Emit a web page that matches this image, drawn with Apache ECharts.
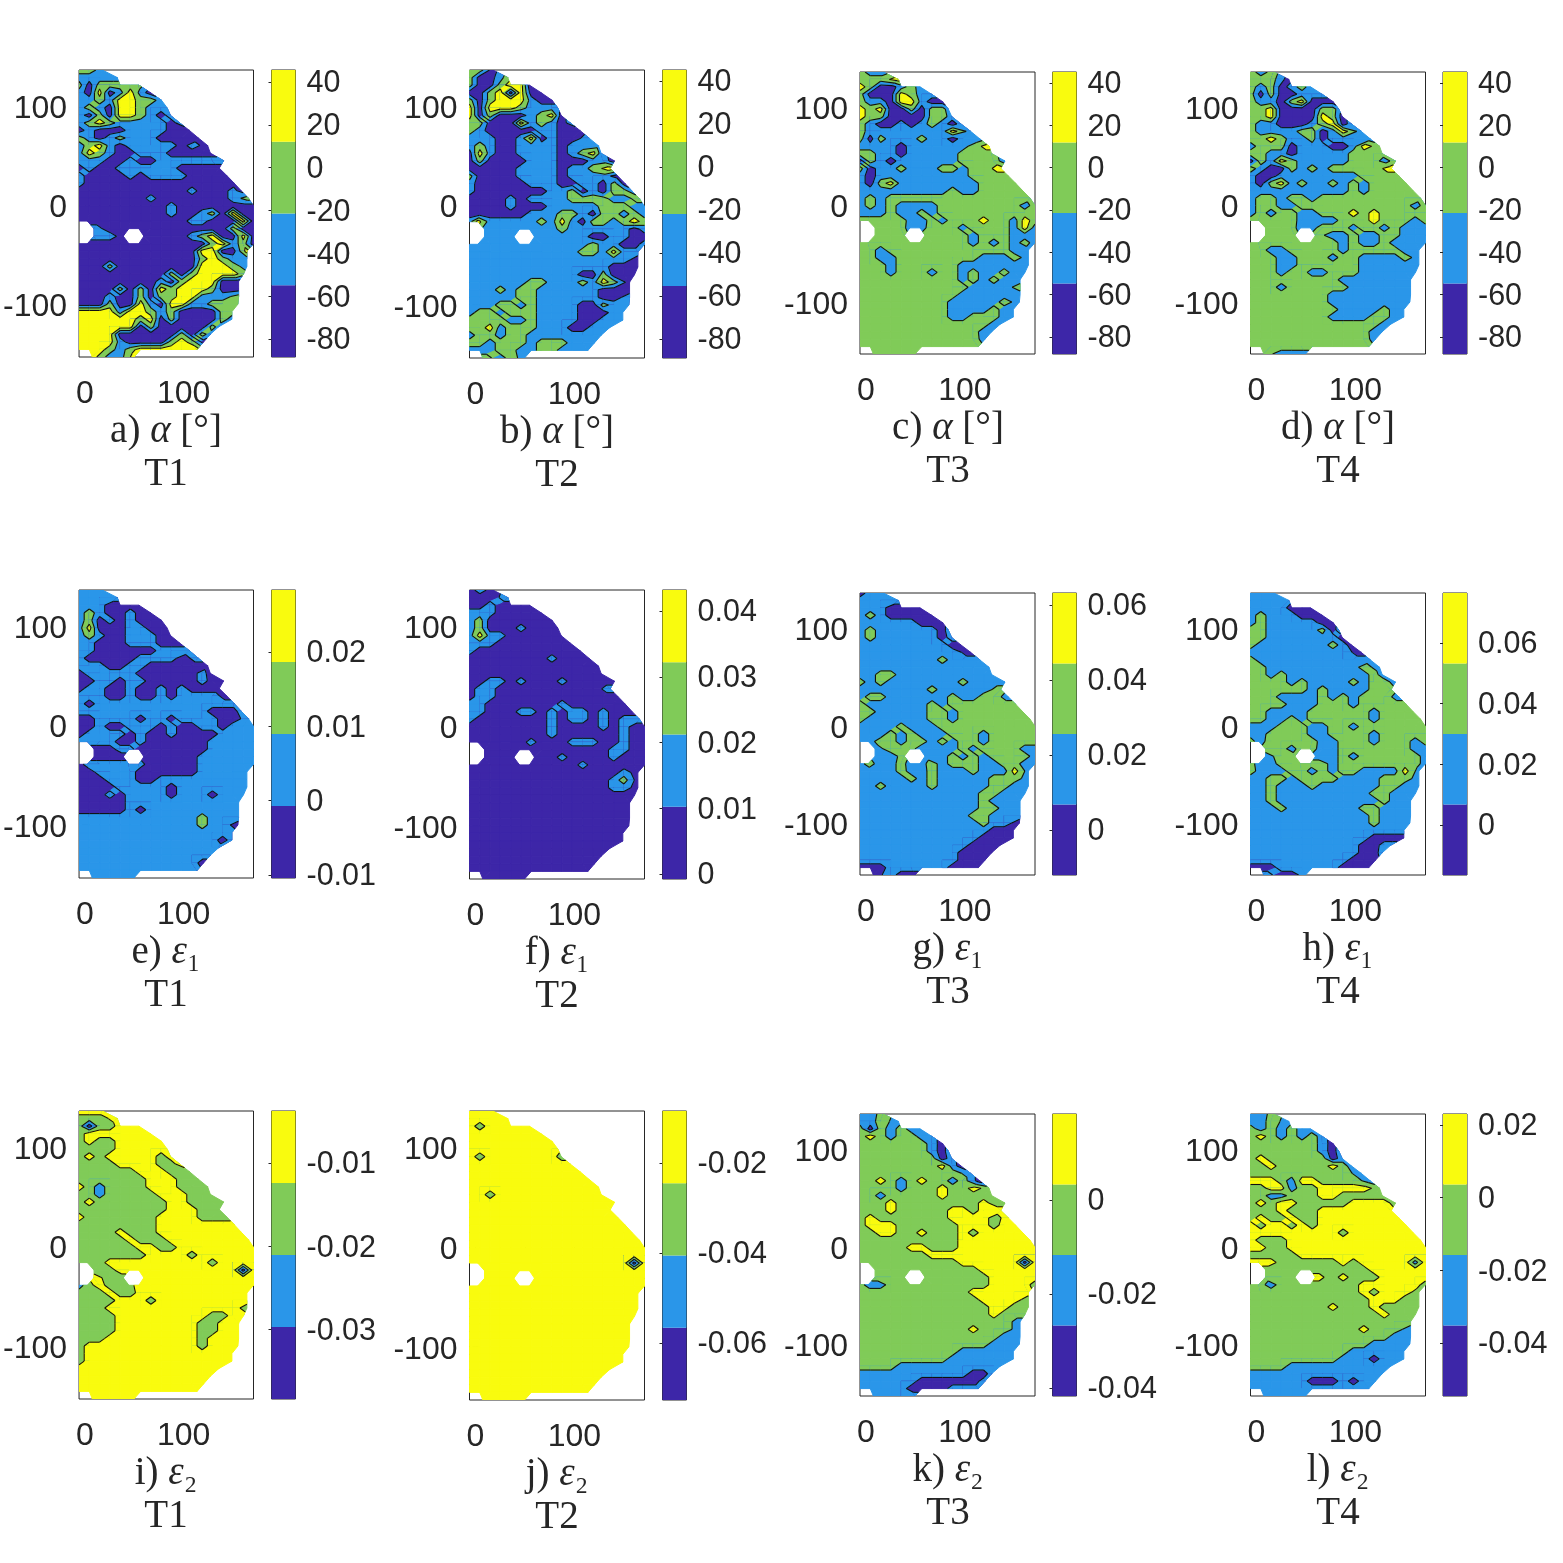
<!DOCTYPE html>
<html>
<head>
<meta charset="utf-8">
<script src="https://cdn.jsdelivr.net/npm/echarts@6/dist/echarts.min.js"></script>
<style>
  html, body { margin: 0; background: #fff; }
  #chart { width: 1563px; height: 1563px; }
</style>
</head>
<body>
<div id="chart"></div>
<script>
// measurement grid, 18 columns x 39 rows, same in every panel
const xMin = -6, xMax = 170.8, yMax = 135, yMin = -154;
const firstCol = Array(38).fill(0).concat([2]);
const lastCol = [2,3,6,7,8,9,9,10,10,11,12,13,14,13,14,15,16,16,17,17,17,17,17,17,16,16,16,16,15,15,15,15,15,15,14,13,12,11,5];
// x of the outermost node in each row
const rightEdge = [17.6,32.7,54.6,66.4,77.5,83.2,86.6,96,105.8,114.9,124.3,127,140.5,136.1,143.9,151.3,158.4,165.8,170.8,170.8,170.8,170.8,170.8,170.8,164.1,164.1,164.1,160.7,155.7,155.7,155.7,155,148.9,148.9,135.5,127,120.3,113.6,49.6];
const holeNodes = [[21,0],[22,0],[21,1],[22,1],[22,5],[22,6]]; // row, col
// nodes round the two holes and the bottom corner that do not sit on the regular columns: row, col, x
const movedNodes = [[20,1,2.4],[21,2,9.2],[22,2,9.2],[23,1,2.4],[21,5,44.5],[21,6,54.6],[23,5,44.5],[23,6,54.6],[22,4,38.8],[22,7,59.7],[38,2,7.5]];

const xTicks = [0, 50, 100, 150], xLabels = [0, 100];
const yTicks = [-100, 0, 100];

// each string is one row from the top, one digit per node: contour band 0..3
// a short row repeats its last digit to the right
const alphaT1 = ['221','111','202','103013100','112133221','121033211100','102033210100','123211111010','010001111000','210121110000','123101111101000000','132100111000','111001001','010011111100','100001011110','1000','000000000001000100','000000010000000120','000000000100000000','000000000100120300','000000000001100030','031000000000000200','031100000001230030','000000000000023120','000000000000330030','000000000000232110','000200000000333210','000000000202333320','000000001023330000','000020203233320000','000100202233111200','000200310331122200','333313321200002200','333333230200002100','333333020000021000','333300000020210000','333310000232000000','333212333333000000','003113'];
const alphaT2 = ['220','2002','2002330','00230300','202333100','3033321111','3020001230','22000312101','21000001100','111001301001','1210011110111','03100111101231','020000111000110','000001111011230','200001111011110','1000001110011020','10000000112010221','00001011112222112','000010001111122211','000000111221022121','131111121310221232','011111111211111101','111111111111001100','111111111111211001','111111111112213110','111111111111111100','111111111111110000','111111111110020000','111111221112132000','111212211111100000','111112211111100100','111221211110021100','122122211110001100','222211211110011100','223122211100111000','122122111111111000','221222122211100000','111221122111000000','002121'];
const alphaT3 = ['211','2223','3200121','20003211','211033100','3230020221','3220000221','21001012101','21111111131','202111211011','1111011111123','22110111112222','021011111122221','20112111221223','101111111112222','1023111111112222','11111111121122222','121222222222222222','121211112222222212','111211212222222222','222221121222322132','222221122212222131','222222222221222111','222222222221212121','221222222222222111','221122222222111210','222122222211111110','222122212212112110','222222222212121100','222222222221111200','222222222211111100','222222222111112100','222222222111121100','222222222112221100','222222222222211000','222222222222110000','222222222222100000','222222222222000000','002222'];
const alphaT4 = ['212','2220','2120121','20200111','211023000','2230000221','2230000320','21100012301','21111220131','223211201111','1222011100132','22110111112222','021321111122212','21002121222223','100111111112222','1023121121212222','11111111112122222','122122122222222222','122112222222222212','121221122232322222','222221111222322212','222221122212212111','222222221121122111','222222222121121111','22112222212222211','22211222122111121','22211222222111111','222122112221111111','222222222111111100','222122222211111100','222222221111111100','222222221111111100','222222222111121100','222222221111221100','222222222222211000','22222222222211','2222222222221','222222222222','002111'];
const eps1T1 = ['111','111','1110000','12100100','120101000','1300011000','1210011100','11000111000','11000000111','100000111101','1110011000000','01111100000010','001101100000100','01100100101000','111001001011110','1011111111111111','11111111111110001','00111101101111001','001001110100110111','011110100100001111','111100100000011111','010011000000011111','000000000000111111','011111100000111111','001111000000111111','000111001111111111','000011111011111111','000101111011101111','000001111111111111','000001011111111111','111111111111211111','111111111111211011','1','11111111111111011','1','1','1111111111110','1','1'];
const eps1T2 = ['010','00010','0010','1110','1200','1200010','13110','1110','10','0000000010','0','0','00110100010','011000000000010','0110','11000000010','110001101011010','100000001011010110','000000001000010100','000000001000000100','000000100011100100','000000000000001100','000000000100001000','00000000000100','000000000000000100','000000000000001200','000000000000001100','0','0','0','0','0','0','0','0','0','0','0','0'];
const eps1T3 = ['01','1','1110000','12100000','111111000','1211111101','1211111101','11111111100','11111111110','1111111121','1','11221','212111111121','111111121111121','122111111211221','2111111212222222','22111112212222222','211111122122222222','111121112222222222','111212111222122222','112212212122122222','021222111121222211','021121111212122221','121121121222112211','11112112111211131','11111212111112221','1121111211111221','111111111111221','11111111111121','111111111111221','11111111111221','1111111111112110','1111111111111000','1111111111110000','111111111110','11111111110','11111111110','000111111000','000100'];
const eps1T4 = ['1','1','1111000','12111000','121111100','2211111201','2211111110','21111111210','11111111110','21','2211111111121','22121111111121','222212111121221','222222121111222','222111121212221','2222111222122222','22111122222212222','22112122222212222','111222112212222222','112222112222122222','212222211222122212','012212211222222211','011222111212222221','211222221222222221','21112212122111131','11221222211112221','1121112111111221','112111111111221','112111111111121','11121111111221','11111111111121','11111111111121','1','111111111111000','11111111111001','11111111111001','1111111111000','000111111000','001001'];
const eps2T1 = ['3','2223','2022333','23','23223','22223','2323333323','22223333223','222222333223','222222233322','3212222333222','22122222333222','232222222332222','22222222233322','322222223333222','222222223','222232223','2222232223','22222233223','222222233332333333','222333333333323','222233333333333303','223223','1232223','2223223','222233323','222333333333333323','2222333333333223','222233333333223','222233333333223','22233333333323','23333333333323','23','23','3','3','3','3','3'];
const eps2T2 = ['3','3','323','3','3','3','32333333323','3','3','3','3','3323','3','3','3','3','3','3','3','3','333333333333333303','3','3','3','3','3','3','3','3','3','3','3','3','3','3','3','3','3','3'];
const eps2T3 = ['112','11212','2021211','23212211','222222210','2222222101','2222222201','22222222310','22222222221','223212322120','2222122232232','2212222232','22232222222232','22232222233233','232222222333323','2333222222333233','22332232223233333','222222222233333333','222223322233333333','222222233333333333','222222222233333303','222222222222333333','222222222222233333','211222222222233332','222222222223333332','22222222222233332','22222222222223322','222222222222232','2222222222222221','2222222222232221','2222222222222211','2222222222222111','2222222222111111','2222222221111111','22221','11111111111001','1111110000001','111110000111','1'];
const eps2T4 = ['112','11212','2121211','23212121','222222210','2222222101','2322222201','22322222321','22222222221','333213322221','2233122333332','22112223322222','232332222233332','22232223333333','232232233333333','3233232333333333','333333333233','32223','33223','222223','333222222323333313','222222222222333333','222222332322233333','221222222223333332','22222222222323332','2222222222223332','22222222322232','222222222222232','2','2222222222232221','2222222222222211','2222222222221111','2222222222111111','2222222221110111','22221','1','111111000101','1','1'];

const panelRows = [alphaT1, alphaT2, alphaT3, alphaT4, eps1T1, eps1T2, eps1T3, eps1T4, eps2T1, eps2T2, eps2T3, eps2T4];

// colour bars: limits and labelled ticks
const barMin = [-88.4, -88.8, -88, -88, -0.0104, -0.00076, -0.012, -0.0165, -0.0384, -0.0727, -0.0417, -0.0546];
const barMax = [45.6, 45, 45.2, 45.2, 0.02834, 0.0432, 0.0632, 0.0765, -0.00373, -0.00844, 0.0183, 0.023];
const alphaBarTicks = [40, 20, 0, -20, -40, -60, -80];
const barTicks = [
  alphaBarTicks, alphaBarTicks, alphaBarTicks, alphaBarTicks,
  [0.02, 0.01, 0, -0.01], [0.04, 0.03, 0.02, 0.01, 0], [0.06, 0.04, 0.02, 0], [0.06, 0.04, 0.02, 0],
  [-0.01, -0.02, -0.03], [-0.02, -0.04, -0.06], [0, -0.02, -0.04], [0.02, 0, -0.02, -0.04]
];

const captionLetters = ['a','b','c','d','e','f','g','h','i','j','k','l'];
const rowQuantity = ['{g|α} {n|[°]}', '{g|ε}{n|₁}', '{g|ε}{n|₂}'];
const seriesNames = ['T1', 'T2', 'T3', 'T4'];

// layout in pixels
const plotLeft = [78.5, 469.5, 860, 1250.5];
const barLeft = [271.5, 662.5, 1052.5, 1443];
const plotTop = [70, 70, 72, 72, 590, 590, 593, 593, 1111, 1111, 1114, 1114];
const plotHeight = [287, 288, 282, 282, 288, 289, 282, 282, 288, 289, 282, 282];
const captionCenter = [166, 557, 948, 1338];

const bandColors = ['#3D26A8', '#2A96E9', '#80CB58', '#F9FB0E'];
const textColor = '#262626';
const sansFont = '"Liberation Sans", Arial, sans-serif';
const serifFont = '"Liberation Serif", "DejaVu Serif", serif';

const nCols = 18, nRows = lastCol.length;

function nodeX(r, c) {
  const moved = movedNodes.find(m => m[0] === r && m[1] === c);
  if (moved) return moved[2];
  if (c === lastCol[r]) return rightEdge[r];
  return xMin + c * (xMax - xMin) / (nCols - 1);
}
function nodeY(r) { return yMax - r * (yMax - yMin) / (nRows - 1); }

function nodeLevel(rows, r, c) {
  if (c < firstCol[r] || c > lastCol[r]) return -1;
  if (holeNodes.some(h => h[0] === r && h[1] === c)) return -1;
  const row = rows[r];
  return Number(row[Math.min(c, row.length - 1)]);
}

function cellData(rows) {
  const cells = [];
  for (let r = 0; r < nRows - 1; r++) {
    for (let c = 0; c < nCols - 1; c++) {
      const v = [nodeLevel(rows, r, c), nodeLevel(rows, r, c + 1), nodeLevel(rows, r + 1, c + 1), nodeLevel(rows, r + 1, c)];
      if (v.filter(d => d >= 0).length < 3) continue;
      cells.push([nodeX(r, c), nodeY(r), nodeX(r, c + 1), nodeX(r + 1, c + 1), nodeX(r + 1, c), nodeY(r + 1), v[0], v[1], v[2], v[3]]);
    }
  }
  return cells;
}

// corners of a cell in pixels, through the axes; missing corners are dropped so the edge runs diagonally
function cellCorners(api) {
  const yTop = api.value(1), yBottom = api.value(5);
  const xy = [[api.value(0), yTop], [api.value(2), yTop], [api.value(3), yBottom], [api.value(4), yBottom]];
  const out = [];
  for (let i = 0; i < 4; i++) {
    const v = api.value(6 + i);
    if (v < 0) continue;
    const p = api.coord(xy[i]);
    out.push({ x: p[0], y: p[1], v: v });
  }
  return out;
}

function crossing(a, b, t) {
  const k = (t - a.v) / (b.v - a.v);
  return { x: a.x + (b.x - a.x) * k, y: a.y + (b.y - a.y) * k, v: t };
}

function clipAbove(poly, t) {
  const out = [];
  for (let i = 0; i < poly.length; i++) {
    const a = poly[i], b = poly[(i + 1) % poly.length];
    if (a.v >= t) out.push(a);
    if ((a.v >= t) !== (b.v >= t)) out.push(crossing(a, b, t));
  }
  return out;
}

function renderBands(params, api) {
  const poly = cellCorners(api);
  const values = poly.map(p => p.v);
  const lo = Math.min.apply(null, values), hi = Math.max.apply(null, values);
  const children = [];
  for (let level = lo; level <= hi; level++) {
    const part = level === lo ? poly : clipAbove(poly, level - 0.5);
    if (part.length < 3) continue;
    children.push({
      type: 'polygon',
      shape: { points: part.map(p => [p.x, p.y]) },
      style: { fill: bandColors[level], stroke: bandColors[level], lineWidth: 1 }
    });
  }
  return { type: 'group', children: children };
}

function renderContours(params, api) {
  const poly = cellCorners(api);
  const children = [];
  [0.5, 1.5, 2.5].forEach(t => {
    const hits = [];
    for (let i = 0; i < poly.length; i++) {
      const a = poly[i], b = poly[(i + 1) % poly.length];
      if ((a.v >= t) !== (b.v >= t)) hits.push(crossing(a, b, t));
    }
    for (let i = 0; i + 1 < hits.length; i += 2) {
      children.push({
        type: 'line',
        shape: { x1: hits[i].x, y1: hits[i].y, x2: hits[i + 1].x, y2: hits[i + 1].y },
        style: { stroke: '#101010', lineWidth: 1.1 }
      });
    }
  });
  return { type: 'group', children: children };
}

function renderBarBand(params, api) {
  const a = api.coord([0, api.value(2)]);
  const b = api.coord([1, api.value(1)]);
  return {
    type: 'rect',
    shape: { x: a[0], y: a[1], width: b[0] - a[0], height: b[1] - a[1] },
    style: { fill: bandColors[api.value(0)] }
  };
}

function barBands(p) {
  const step = (barMax[p] - barMin[p]) / 4;
  return bandColors.map((c, i) => [i, barMin[p] + i * step, barMin[p] + (i + 1) * step]);
}

// the plain label padding is ignored on axis labels, a rich token keeps it
function nudgedLabel(fontSize, drop) {
  return {
    formatter: v => '{t|' + v + '}',
    rich: { t: { color: textColor, fontFamily: sansFont, fontSize: fontSize, padding: [drop, 0, 0, 0] } }
  };
}

const grids = [], xAxes = [], yAxes = [], series = [], titles = [];
const tickStyle = { show: true, inside: true, length: 3, lineStyle: { color: textColor, width: 1 } };

panelRows.forEach((rows, p) => {
  const col = p % 4, row = Math.floor(p / 4);
  const plotGrid = grids.length;
  grids.push({ left: plotLeft[col], top: plotTop[p], width: 175, height: plotHeight[p], show: true, borderColor: textColor, borderWidth: 1, backgroundColor: 'transparent' });
  grids.push({ left: barLeft[col], top: plotTop[p], width: 24, height: plotHeight[p], show: true, borderColor: textColor, borderWidth: 1, backgroundColor: 'transparent' });

  const firstX = xAxes.length, firstY = yAxes.length;
  const labelStyle = { color: textColor, fontFamily: sansFont, fontSize: 32 };
  xAxes.push({
    type: 'value', gridIndex: plotGrid, min: xMin, max: xMax, position: 'bottom', splitLine: { show: false },
    axisLine: { show: false },
    axisTick: Object.assign({ customValues: xTicks }, tickStyle),
    axisLabel: Object.assign({ customValues: xLabels, margin: 21, hideOverlap: false }, labelStyle)
  });
  xAxes.push({
    type: 'value', gridIndex: plotGrid, min: xMin, max: xMax, position: 'top', splitLine: { show: false },
    axisLine: { show: false }, axisTick: Object.assign({ customValues: xTicks }, tickStyle), axisLabel: { show: false }
  });
  xAxes.push({ type: 'value', gridIndex: plotGrid + 1, min: 0, max: 1, show: false });
  yAxes.push({
    type: 'value', gridIndex: plotGrid, min: yMin, max: yMax, position: 'left', splitLine: { show: false },
    axisLine: { show: false },
    axisTick: Object.assign({ customValues: yTicks }, tickStyle),
    axisLabel: Object.assign({ customValues: yTicks, margin: 12, hideOverlap: false }, labelStyle, nudgedLabel(32, 8))
  });
  yAxes.push({
    type: 'value', gridIndex: plotGrid, min: yMin, max: yMax, position: 'right', splitLine: { show: false },
    axisLine: { show: false }, axisTick: Object.assign({ customValues: yTicks }, tickStyle), axisLabel: { show: false }
  });
  yAxes.push({
    type: 'value', gridIndex: plotGrid + 1, min: barMin[p], max: barMax[p], position: 'right', splitLine: { show: false },
    axisLine: { show: false },
    axisTick: Object.assign({ customValues: barTicks[p] }, tickStyle),
    axisLabel: Object.assign({ customValues: barTicks[p], margin: 11, hideOverlap: false }, labelStyle, nudgedLabel(30.5, 4))
  });

  const cells = cellData(rows);
  series.push({
    type: 'custom', name: captionLetters[p] + ' bands', xAxisIndex: firstX, yAxisIndex: firstY, silent: true, clip: true,
    animation: false, renderItem: renderBands, data: cells, z: 2
  });
  series.push({
    type: 'custom', name: captionLetters[p] + ' contours', xAxisIndex: firstX, yAxisIndex: firstY, silent: true, clip: true,
    animation: false, renderItem: renderContours, data: cells, z: 3
  });
  series.push({
    type: 'custom', name: captionLetters[p] + ' bar', xAxisIndex: firstX + 2, yAxisIndex: firstY + 2, silent: true,
    animation: false, renderItem: renderBarBand, data: barBands(p), z: 1
  });

  const captionStyle = {
    fontFamily: serifFont, fontSize: 39, fontWeight: 'normal', color: textColor,
    rich: {
      n: { fontFamily: serifFont, fontSize: 39, color: textColor },
      g: { fontFamily: serifFont, fontSize: 39, fontStyle: 'italic', color: textColor }
    }
  };
  const bottom = plotTop[p] + plotHeight[p];
  titles.push({
    text: '{n|' + captionLetters[p] + ')} ' + rowQuantity[row],
    left: captionCenter[col], top: bottom + 75, padding: 0, textAlign: 'center', textVerticalAlign: 'middle', textStyle: captionStyle
  });
  titles.push({
    text: seriesNames[col],
    left: captionCenter[col], top: bottom + 118, padding: 0, textAlign: 'center', textVerticalAlign: 'middle', textStyle: captionStyle
  });
});

const chart = echarts.init(document.getElementById('chart'), null, { renderer: 'canvas' });
chart.setOption({
  animation: false,
  backgroundColor: '#ffffff',
  title: titles,
  grid: grids,
  xAxis: xAxes,
  yAxis: yAxes,
  series: series
});
</script>
</body>
</html>
